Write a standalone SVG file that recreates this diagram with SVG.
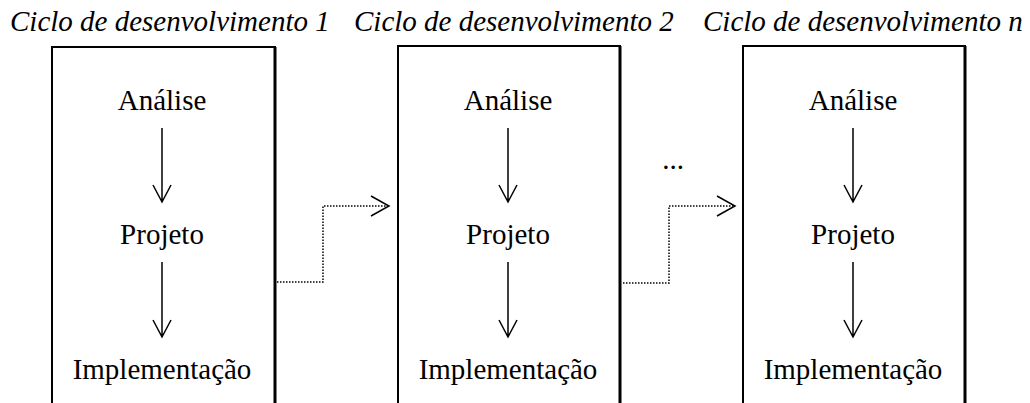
<svg xmlns="http://www.w3.org/2000/svg" width="1030" height="403" viewBox="0 0 1030 403">
<style>
.t{font-family:"Liberation Serif","Times New Roman",serif;font-size:29px;fill:#000;text-anchor:middle}
.h{font-family:"Liberation Serif","Times New Roman",serif;font-size:29px;font-style:italic;fill:#000}
.box{fill:none;stroke:#000;stroke-width:2}
.ar{stroke:#000;stroke-width:1.5;fill:none}
.dot{stroke:#000;stroke-width:1.5;fill:none;stroke-dasharray:1.5 1.5}
</style>
<rect width="1030" height="403" fill="#fff"/>
<g id="titles">
<text class="h" x="10" y="31">Ciclo de desenvolvimento 1</text>
<text class="h" x="354" y="31">Ciclo de desenvolvimento 2</text>
<text class="h" x="703" y="31">Ciclo de desenvolvimento n</text>
</g>
<g id="cycle1">
<path class="box" d="M52 404 V47 H275 V404"/>
<line x1="275" y1="47" x2="275" y2="404" stroke="#000" stroke-width="3"/>
<text class="t" x="162" y="110">Análise</text>
<text class="t" x="162" y="244">Projeto</text>
<text class="t" x="162" y="379">Implementação</text>
</g>
<g id="cycle2">
<path class="box" d="M398 404 V46 H620 V404"/>
<line x1="620" y1="46" x2="620" y2="404" stroke="#000" stroke-width="3"/>
<text class="t" x="508" y="110">Análise</text>
<text class="t" x="508" y="244">Projeto</text>
<text class="t" x="508" y="379">Implementação</text>
</g>
<g id="cycle3">
<path class="box" d="M743 404 V46 H965 V404"/>
<line x1="965" y1="46" x2="965" y2="404" stroke="#000" stroke-width="3"/>
<text class="t" x="853" y="110">Análise</text>
<text class="t" x="853" y="244">Projeto</text>
<text class="t" x="853" y="379">Implementação</text>
</g>
<g id="ellipsis">
<text class="t" x="673" y="169">...</text>
</g>
<g id="connectors">
<path class="ar" d="M162 128 V202 M153 185 L162 202 L171 185"/>
<path class="ar" d="M162 262 V337 M153 320 L162 337 L171 320"/>
<path class="ar" d="M508 128 V202 M499 185 L508 202 L517 185"/>
<path class="ar" d="M508 262 V337 M499 320 L508 337 L517 320"/>
<path class="ar" d="M853 128 V202 M844 185 L853 202 L862 185"/>
<path class="ar" d="M853 262 V337 M844 320 L853 337 L862 320"/>
<path class="dot" d="M277 282 H323 V206 H388"/>
<path class="ar" d="M371 196 L389 206 L371 216"/>
<path class="dot" d="M623 283 H669 V206 H734"/>
<path class="ar" d="M717 196 L735 206 L717 216"/>
</g>
</svg>
